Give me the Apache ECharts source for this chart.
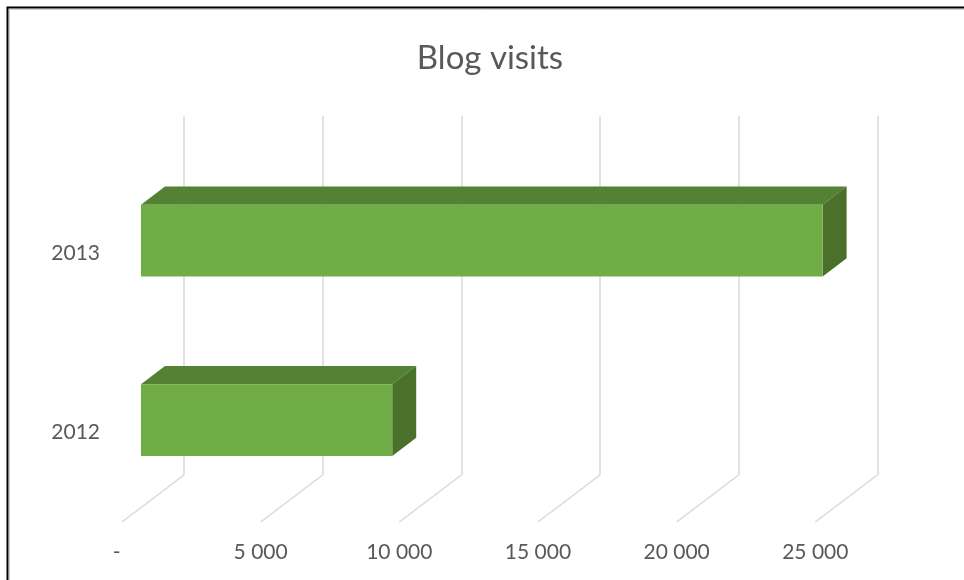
<!DOCTYPE html>
<html>
<head>
<meta charset="utf-8">
<script src="https://cdn.jsdelivr.net/npm/echarts@6/dist/echarts.min.js"></script>
<style>
  html, body { margin: 0; padding: 0; background: #ffffff; }
  #chart { width: 964px; height: 580px; }
</style>
</head>
<body>
<div id="chart"></div>
<script>
// ---- data ----
const titleText = 'Blog visits';
const categories = ['2012', '2013'];
const visits = [9060, 24580];
const tickValues = [0, 5000, 10000, 15000, 20000, 25000];

// ---- layout / style constants ----
const FONT = 'Lato, "Open Sans", sans-serif';
const DX = 62, DY = -47;          // depth vector (front -> back wall)
const FRONT_TX = 0.306;           // bar front plane as fraction of depth (x)
const FRONT_TY = 0.26;            // bar front plane as fraction of depth (y)
const BAR_T = 0.387;              // bar depth as fraction of depth
const BAR_RATIO = 0.4;            // bar height / category band (gap width 150%)
const FRONT = { left: 122, top: 163, width: 693.3, height: 359 };

const fmt = v => v === 0 ? '-  ' : String(v).replace(/\B(?=(\d{3})+(?!\d))/g, ' ');

const chart = echarts.init(document.getElementById('chart'), null, { renderer: 'canvas' });

chart.setOption({
  backgroundColor: '#ffffff',
  animation: false,
  title: {
    text: titleText,
    left: 485,
    textAlign: 'center',
    top: 37,
    textStyle: { fontFamily: FONT, fontSize: 33, fontWeight: 'normal', color: '#595959' }
  },
  graphic: [
    { type: 'rect', shape: { x: 7.5, y: 7.5, width: 1200, height: 1200 },
      style: { fill: 'none', stroke: '#000000', lineWidth: 2 }, z: 100 },
    { type: 'rect', shape: { x: 9.5, y: 9.5, width: 1200, height: 1200 },
      style: { fill: 'none', stroke: '#d0d0d0', lineWidth: 1 }, z: 100 }
  ],
  grid: [
    { left: FRONT.left, top: FRONT.top, width: FRONT.width, height: FRONT.height },
    { left: FRONT.left + DX, top: FRONT.top + DY, width: FRONT.width, height: FRONT.height }
  ],
  xAxis: [
    {
      type: 'value', gridIndex: 0, min: 0, max: 25000, interval: 5000,
      axisLine: { show: false }, axisTick: { show: false }, splitLine: { show: false },
      axisLabel: { formatter: fmt, margin: 20, color: '#595959', fontFamily: FONT, fontSize: 21 }
    },
    {
      type: 'value', gridIndex: 1, min: 0, max: 25000, interval: 5000,
      axisLine: { show: false }, axisTick: { show: false }, axisLabel: { show: false },
      splitLine: { show: true, lineStyle: { color: '#d9d9d9', width: 1.5 } }
    }
  ],
  yAxis: [
    {
      type: 'category', gridIndex: 0, data: categories,
      axisLine: { show: false }, axisTick: { show: false }, splitLine: { show: false },
      axisLabel: { margin: 22, color: '#595959', fontFamily: FONT, fontSize: 21 }
    },
    {
      type: 'category', gridIndex: 1, data: categories, show: false
    }
  ],
  series: [
    {
      // floor lines from back wall down to the front
      type: 'custom', xAxisIndex: 0, yAxisIndex: 0, z: 1, silent: true,
      data: tickValues.map(v => [v]),
      renderItem: function (params, api) {
        const cs = params.coordSys;
        const p = api.coord([api.value(0), 0]);
        const yb = cs.y + cs.height;
        return {
          type: 'line',
          shape: { x1: p[0], y1: yb, x2: p[0] + DX, y2: yb + DY },
          style: { stroke: '#d9d9d9', lineWidth: 1.5 }
        };
      }
    },
    {
      type: 'custom', xAxisIndex: 0, yAxisIndex: 0, z: 5,
      data: visits.map((v, i) => [v, i]),
      renderItem: function (params, api) {
        const v = api.value(0), c = api.value(1);
        const s = api.coord([0, c]);
        const e = api.coord([v, c]);
        const h = api.size([0, 1])[1] * BAR_RATIO;
        const fx = FRONT_TX * DX, fy = FRONT_TY * DY;
        const bx = BAR_T * DX, by = BAR_T * DY;
        const x0 = s[0] + fx, x1 = e[0] + fx;
        const yT = s[1] - h / 2 + fy, yB = s[1] + h / 2 + fy;
        return {
          type: 'group',
          children: [
            { type: 'polygon',
              shape: { points: [[x0, yT], [x0 + bx, yT + by], [x1 + bx, yT + by], [x1, yT]] },
              style: { fill: '#548235' } },
            { type: 'polygon',
              shape: { points: [[x1, yT], [x1 + bx, yT + by], [x1 + bx, yB + by], [x1, yB]] },
              style: { fill: '#4a7029' } },
            { type: 'rect',
              shape: { x: x0, y: yT, width: x1 - x0, height: yB - yT },
              style: { fill: '#70ad47' } }
          ]
        };
      }
    }
  ]
});
</script>
</body>
</html>
